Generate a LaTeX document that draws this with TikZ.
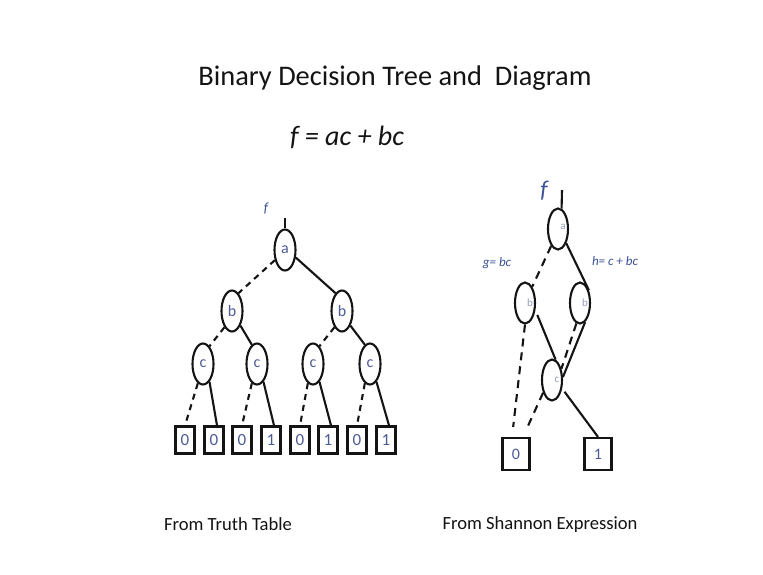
\documentclass[tikz,border=0pt]{standalone}
\usepackage{fontspec}
\setmainfont{Carlito}
\usetikzlibrary{shapes.geometric}
\definecolor{lbl}{RGB}{78,92,150}
\definecolor{flbl}{RGB}{60,82,150}
\definecolor{ink}{RGB}{20,20,20}
\begin{document}
\begin{tikzpicture}[x=1pt,y=-1pt,
  tnode/.style={ellipse,draw=ink,line width=2.1pt,minimum width=21pt,minimum height=41pt,
    inner sep=0pt,text=lbl,font=\fontsize{16}{16}\selectfont},
  leaf/.style={rectangle,draw=ink,line width=2.2pt,minimum width=19pt,minimum height=27pt,
    inner sep=0pt,text=lbl,font=\fontsize{17}{17}\selectfont},
  rnode/.style={ellipse,draw=ink,line width=2.1pt,minimum width=20pt,minimum height=41pt,
    inner sep=0pt,text=lbl!60,font=\fontsize{11}{11}\selectfont},
  rleaf/.style={rectangle,draw=ink,line width=2.2pt,minimum width=27pt,minimum height=32pt,
    inner sep=0pt,text=lbl,font=\fontsize{16}{16}\selectfont},
  hiedge/.style={draw=ink,line width=2.1pt},
  loedge/.style={draw=ink,line width=2.1pt,dash pattern=on 6pt off 5pt},
  caption/.style={font=\fontsize{18.6}{20}\selectfont,text=ink},
  fname/.style={text=flbl,font=\fontsize{14}{14}\selectfont\itshape},
]
\useasboundingbox[fill=white] (0,0) rectangle (763,574);

% headings
\node[font=\fontsize{28.4}{32}\selectfont,text=ink] (title) at (395,78)
  {Binary Decision Tree and\ \ Diagram};
\node[font=\fontsize{28}{32}\selectfont\itshape,text=ink] (expr) at (347,137)
  {f = ac + bc};

% ---------- decision tree ----------
\node[tnode] (a)   at (285,250) {a};
\node[tnode] (b1)  at (232,311) {b};
\node[tnode] (b2)  at (342,311) {b};
\node[tnode] (c1)  at (203,364) {c};
\node[tnode] (c2)  at (257,364) {c};
\node[tnode] (c3)  at (313,364) {c};
\node[tnode] (c4)  at (370,364) {c};
\node[leaf] (l1) at (185,440) {0};
\node[leaf] (l2) at (214,440) {0};
\node[leaf] (l3) at (242,440) {0};
\node[leaf] (l4) at (271,440) {1};
\node[leaf] (l5) at (300,440) {0};
\node[leaf] (l6) at (328,440) {1};
\node[leaf] (l7) at (357,440) {0};
\node[leaf] (l8) at (386,440) {1};
\coordinate (atop) at (285,218);
\node[fname] (fl) at (266,209) {f};

\draw[hiedge] (atop) -- (a.north);
\draw[loedge] (a.225) -- (b1.70);
\draw[hiedge] (a.-35) -- (b2.110);
\foreach \p/\l/\r in {b1/c1/c2, b2/c3/c4}{
  \draw[loedge] (\p.-115) -- (\l.70);
  \draw[hiedge] (\p.-60) -- (\r.105);
}
\foreach \p/\l/\r in {c1/l1/l2, c2/l3/l4, c3/l5/l6, c4/l7/l8}{
  \draw[loedge] (\p.-105) -- (\l.north);
  \draw[hiedge] (\p.-70) -- ([xshift=3pt]\r.north);
}

% ---------- reduced diagram ----------
\node[rnode] (ra)  at (558,229) {\makebox[0pt]{\hspace*{10pt}\raisebox{4pt}{a}}};
\node[rnode] (rb1) at (525,303) {\makebox[0pt]{\hspace*{10pt}b}};
\node[rnode] (rb2) at (580,303) {\makebox[0pt]{\hspace*{10pt}b}};
\node[rnode] (rc)  at (552,380) {\makebox[0pt]{\hspace*{10pt}c}};
\node[rleaf] (r0) at (516,454) {0};
\node[rleaf] (r1) at (598,454) {1};
\coordinate (ratop) at (562,190);
\node[fname,font=\fontsize{24}{24}\selectfont\itshape] (fr) at (544,191) {f};
\node[fname,font=\fontsize{13}{13}\selectfont\itshape] (gl) at (497,263) {g= bc};
\node[fname,font=\fontsize{13}{13}\selectfont\itshape] (hl) at (615,261) {h= c + bc};

\draw[hiedge] (ratop) -- (ra.80);
\draw[loedge,dash pattern=on 8pt off 6pt] (ra.-112) -- (rb1.66);
\draw[hiedge] (ra.-60) -- (rb2.55);
\draw[loedge,dash pattern=on 8pt off 6pt,shorten >=10pt] (rb1.-90) -- ([xshift=-4pt]r0.north);
\draw[hiedge,shorten <=5pt] (rb1.-35) -- (rc.80);
\draw[loedge,dash pattern=on 8pt off 6pt] (rb2.-100) -- (rc.50);
\draw[hiedge] (rb2.-75) -- (rc.15);
\draw[loedge,dash pattern=on 8pt off 6pt,shorten >=9pt] (rc.-125) -- ([xshift=7pt]r0.north);
\draw[hiedge,shorten <=4pt] (rc.-40) -- (r1.north);

% captions
\node[caption] (cap1) at (228,524) {From Truth Table};
\node[caption] (cap2) at (540,525) {From Shannon Expression};
\end{tikzpicture}
\end{document}
